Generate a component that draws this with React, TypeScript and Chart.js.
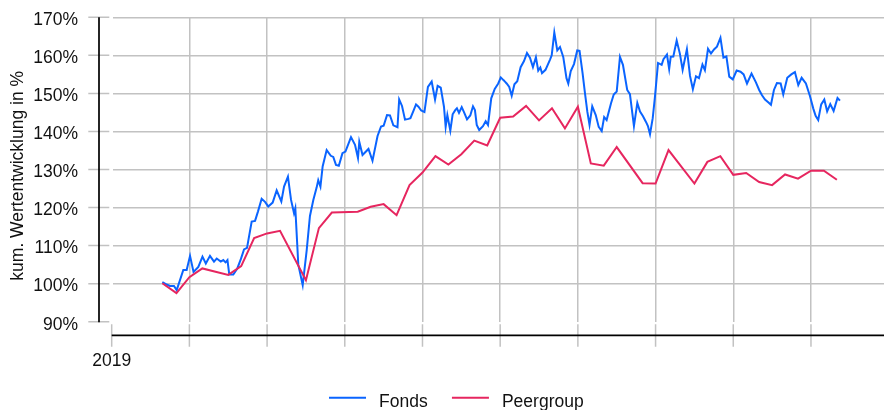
import React, { useEffect, useRef } from 'react';
import { Chart, registerables } from 'chart.js';

Chart.register(...registerables);

// ---- data (x = months since 1 Jan 2019) ----
const fondsMonths = [
  3.91, 4.19, 4.5, 4.81, 5.02, 5.53, 5.79, 6.05, 6.32, 6.69, 7.01, 7.27, 7.59, 7.9, 8.11, 8.42, 8.62, 8.79, 8.94,
  9.08, 9.39, 9.7, 9.98, 10.22, 10.45, 10.81, 11.07, 11.3, 11.58, 11.84, 12.09, 12.43, 12.74, 13.1, 13.31, 13.61,
  13.85, 14.08, 14.18, 14.41, 14.75, 15.06, 15.31, 15.57, 15.83, 15.95, 16.12, 16.29, 16.6, 16.92, 17.11, 17.32,
  17.54, 17.82, 18.05, 18.48, 18.79, 19.02, 19.12, 19.37, 19.83, 20.14, 20.53, 20.8, 21.0, 21.26, 21.49, 21.75,
  22.07, 22.2, 22.42, 22.65, 22.92, 23.07, 23.31, 23.5, 23.69, 23.9, 24.15, 24.42, 24.71, 24.97, 25.17, 25.41,
  25.66, 25.79, 25.92, 26.15, 26.33, 26.53, 26.66, 26.82, 27.03, 27.23, 27.44, 27.69, 27.9, 28.05, 28.19, 28.38,
  28.67, 28.88, 29.06, 29.31, 29.58, 29.85, 30.05, 30.25, 30.37, 30.5, 30.7, 30.89, 31.1, 31.32, 31.58, 31.84,
  32.07, 32.3, 32.53, 32.76, 32.94, 33.1, 33.23, 33.5, 33.85, 33.98, 34.18, 34.41, 34.62, 34.87, 35.12, 35.26,
  35.45, 35.7, 35.95, 36.13, 36.36, 36.55, 36.73, 36.9, 37.11, 37.38, 37.61, 37.84, 38.03, 38.22, 38.56, 38.77,
  39.0, 39.25, 39.48, 39.81, 40.02, 40.33, 40.59, 40.8, 41.03, 41.26, 41.41, 41.57, 41.78, 41.95, 42.19, 42.47,
  42.61, 42.88, 43.05, 43.17, 43.37, 43.63, 43.88, 44.09, 44.42, 44.66, 44.88, 45.12, 45.35, 45.62, 45.81, 46.05,
  46.28, 46.53, 46.74, 47.01, 47.24, 47.47, 47.69, 47.96, 48.26, 48.56, 48.8, 49.06, 49.41, 49.75, 50.0, 50.22,
  50.45, 50.72, 50.91, 51.14, 51.37, 51.66, 51.86, 52.17, 52.48, 52.76, 53.02, 53.28, 53.61, 53.92, 54.18, 54.36,
  54.56, 54.79, 55.03, 55.25, 55.49, 55.75, 56.05, 56.24,
];
const fondsValues = [
  100.4, 99.9, 99.4, 99.4, 98.3, 103.6, 103.6, 107.3, 103.1, 104.4, 107.1, 105.3, 107.3, 105.8, 106.6, 105.8, 106.2, 105.6, 106.2,
  102.4, 102.4, 104.0, 106.5, 109.0, 109.4, 116.3, 116.5, 119.0, 122.3, 121.5, 120.3, 121.3, 124.5, 121.6, 125.5, 128.1,
  122.0, 118.5, 119.8, 105.0, 99.6, 108.8, 117.8, 122.0, 125.3, 127.2, 125.5, 130.8, 135.1, 133.6, 133.3, 131.2,
  131.0, 134.3, 134.7, 138.5, 136.5, 133.0, 137.3, 133.8, 135.4, 132.3, 138.8, 141.3, 141.5, 144.3, 144.2, 141.6,
  141.1, 148.4, 146.7, 143.1, 143.3, 143.5, 145.5, 147.1, 146.5, 145.5, 145.1, 151.7, 153.1, 148.4, 152.0, 151.5,
  146.5, 141.2, 144.3, 140.2, 144.5, 145.6, 146.1, 144.9, 146.4, 144.9, 143.2, 144.2, 146.6, 145.6, 141.7, 140.4,
  141.4, 142.7, 141.7, 148.7, 151.2, 152.6, 154.2, 153.5, 153.1, 152.6, 151.7, 149.4, 152.4, 153.2, 156.9, 158.5,
  160.6, 159.4, 156.9, 159.5, 156.0, 156.8, 155.3, 156.2, 158.9, 160.0, 166.0, 161.3, 162.2, 159.6, 154.0, 152.6,
  155.9, 157.7, 161.3, 161.2, 155.4, 150.0, 145.2, 141.7, 146.6, 144.3, 141.2, 140.1, 143.8, 143.0, 147.4, 149.7,
  150.5, 159.6, 157.5, 150.9, 149.8, 141.4, 147.5, 145.2, 144.0, 142.5, 141.4, 139.3, 143.5, 149.0, 158.0, 157.5,
  159.0, 160.2, 156.4, 159.6, 159.7, 163.9, 160.4, 156.2, 161.6, 154.6, 151.1, 154.5, 154.0, 157.6, 156.1, 161.7,
  160.5, 161.6, 162.3, 164.6, 159.4, 159.7, 154.4, 153.7, 156.0, 155.7, 155.0, 152.6, 155.2, 152.9, 150.9, 149.5,
  148.4, 147.6, 147.0, 150.9, 152.7, 152.6, 149.7, 154.1, 155.0, 155.6, 152.2, 154.1, 152.6, 149.3, 146.0, 144.1,
  143.0, 147.1, 148.4, 145.3, 147.2, 145.4, 148.8, 148.1,
];

const peerMonths = [
  3.91, 5, 6, 7, 9, 10, 11, 12, 13, 15, 16, 17, 19, 20, 21, 22, 23, 24, 25, 26, 27, 28, 29, 30, 31, 32, 33, 34,
  35, 36, 37, 38, 39, 41, 42, 43, 45, 46, 47, 48, 49, 50, 51, 52, 53, 54, 55, 56,
];
const peerValues = [
  100.1, 97.5, 101.7, 104.0, 102.3, 104.6, 112.0, 113.2, 113.9, 100.9, 114.6, 118.7, 118.9, 120.2, 120.9, 118.0,
  125.9, 129.2, 133.5, 131.3, 134.0, 137.6, 136.3, 143.6, 143.9, 146.7, 142.9, 146.1, 140.8, 146.5, 131.6, 131.0,
  135.9, 126.4, 126.3, 135.1, 126.3, 132.0, 133.5, 128.6, 129.1, 126.7, 125.9, 128.7, 127.6, 129.7, 129.7, 127.3,
];

const seriesNames = ['Fonds', 'Peergroup'];
const xTickMonths = [0, 6, 12, 18, 24, 30, 36, 42, 48, 54];
const xTickLabels = ['2019', '', '', '', '', '', '', '', '', ''];
const yTickValues = [90, 100, 110, 120, 130, 140, 150, 160, 170];
const yTitle = 'kum. Wertentwicklung in %';

// ---- styles ----
const FONT = "'Liberation Sans', Arial, Helvetica, sans-serif";
const FONT_SIZE = 17.5;
const TEXT_COLOR = '#111111';
const GRID_COLOR = '#c2c2c2';
const SERIES_COLORS = ['#0a64ff', '#e6265f'];

const decorPlugin = {
  id: 'decor',
  afterDraw(chart: any) {
    const { ctx, chartArea, scales } = chart;
    const x = scales.x;
    const y = scales.y;
    const yAxisX = chartArea.left - 14.3;
    const xAxisY = chartArea.bottom + 13.6;
    ctx.save();
    // tick marks
    ctx.strokeStyle = GRID_COLOR;
    ctx.lineWidth = 1.5;
    ctx.beginPath();
    for (const v of yTickValues) {
      const py = y.getPixelForValue(v);
      ctx.moveTo(yAxisX - 10.7, py);
      ctx.lineTo(yAxisX + 10.3, py);
    }
    for (const m of xTickMonths) {
      const px = x.getPixelForValue(m);
      ctx.moveTo(px, xAxisY - 11);
      ctx.lineTo(px, xAxisY + 11.4);
    }
    ctx.stroke();
    // axis lines
    ctx.strokeStyle = '#000000';
    ctx.lineWidth = 1.7;
    ctx.beginPath();
    ctx.moveTo(yAxisX, y.getPixelForValue(yTickValues[yTickValues.length - 1]));
    ctx.lineTo(yAxisX, y.getPixelForValue(yTickValues[0]) + 0.5);
    ctx.moveTo(x.getPixelForValue(xTickMonths[0]), xAxisY);
    ctx.lineTo(chart.width, xAxisY);
    ctx.stroke();
    // y title
    ctx.fillStyle = TEXT_COLOR;
    ctx.font = `${FONT_SIZE}px ${FONT}`;
    ctx.save();
    ctx.translate(18.4, 175.8);
    ctx.rotate(-Math.PI / 2);
    ctx.textAlign = 'center';
    ctx.textBaseline = 'middle';
    ctx.fillText(yTitle, 0, 0);
    ctx.restore();
    // legend
    let lx = 329;
    const lineY = 397.7;
    const textBase = 406.8;
    ctx.textAlign = 'left';
    ctx.textBaseline = 'alphabetic';
    seriesNames.forEach((name, i) => {
      ctx.strokeStyle = SERIES_COLORS[i];
      ctx.lineWidth = 2;
      ctx.beginPath();
      ctx.moveTo(lx, lineY);
      ctx.lineTo(lx + 37, lineY);
      ctx.stroke();
      const tx = lx + 50;
      ctx.fillStyle = TEXT_COLOR;
      ctx.fillText(name, tx, textBase);
      lx = tx + ctx.measureText(name).width + 24.3;
    });
    ctx.restore();
  },
};

export default function App() {
  const canvasRef = useRef<HTMLCanvasElement | null>(null);

  useEffect(() => {
    document.body.style.margin = '0';
    const canvas = canvasRef.current;
    if (!canvas) return;
    const chart = new Chart(canvas, {
      type: 'line',
      data: {
        datasets: [
          {
            label: seriesNames[0],
            data: fondsMonths.map((m, i) => ({ x: m, y: fondsValues[i] })),
            borderColor: SERIES_COLORS[0],
            backgroundColor: SERIES_COLORS[0],
            borderWidth: 2,
            pointRadius: 0,
            tension: 0,
            order: 1,
          },
          {
            label: seriesNames[1],
            data: peerMonths.map((m, i) => ({ x: m, y: peerValues[i] })),
            borderColor: SERIES_COLORS[1],
            backgroundColor: SERIES_COLORS[1],
            borderWidth: 2,
            pointRadius: 0,
            tension: 0,
            order: 0,
          },
        ],
      },
      options: {
        animation: false,
        responsive: false,
        maintainAspectRatio: false,
        layout: { padding: { top: 17.3, right: 0, bottom: 0, left: 0 } },
        plugins: { legend: { display: false }, tooltip: { enabled: false }, title: { display: false } },
        scales: {
          x: {
            type: 'linear',
            min: 0.124,
            max: 59.64,
            afterBuildTicks: (s: any) => {
              s.ticks = xTickMonths.map((v) => ({ value: v }));
            },
            afterFit: (s: any) => {
              s.height = 88.3;
              s.paddingLeft = 0;
              s.paddingRight = 0;
              s.paddingTop = 0;
              s.paddingBottom = 0;
            },
            ticks: {
              autoSkip: false,
              maxRotation: 0,
              padding: 28.8,
              color: TEXT_COLOR,
              font: { family: FONT, size: FONT_SIZE },
              callback: (_v: any, i: number) => xTickLabels[i],
            },
            grid: {
              color: (c: any) => (c.index === 0 ? 'rgba(0,0,0,0)' : GRID_COLOR),
              lineWidth: 1.5,
              drawTicks: false,
            },
            border: { display: false },
          },
          y: {
            type: 'linear',
            min: 90,
            max: 170,
            afterBuildTicks: (s: any) => {
              s.ticks = yTickValues.map((v) => ({ value: v }));
            },
            afterFit: (s: any) => {
              s.width = 113.3;
              s.paddingLeft = 0;
              s.paddingRight = 0;
              s.paddingTop = 0;
              s.paddingBottom = 0;
            },
            ticks: {
              padding: 35.3,
              labelOffset: 3,
              color: TEXT_COLOR,
              font: { family: FONT, size: FONT_SIZE },
              callback: (v: any) => `${v}%`,
            },
            grid: {
              color: (c: any) => (c.index === 0 ? 'rgba(0,0,0,0)' : GRID_COLOR),
              lineWidth: 1.5,
              drawTicks: false,
            },
            border: { display: false },
          },
        },
      },
      plugins: [decorPlugin],
    });
    return () => chart.destroy();
  }, []);

  return (
    <div style={{ width: 884, height: 410, background: '#ffffff' }}>
      <canvas ref={canvasRef} width={884} height={410} style={{ display: 'block', width: 884, height: 410 }} />
    </div>
  );
}
